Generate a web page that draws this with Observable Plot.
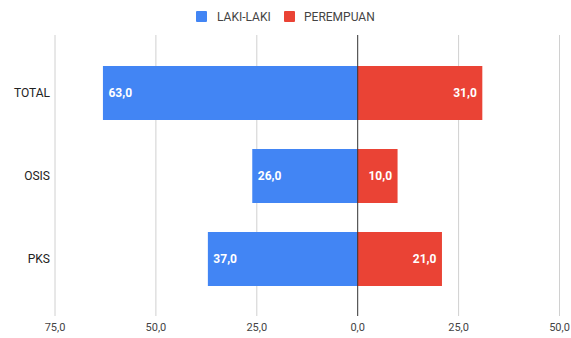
<!DOCTYPE html>
<html><head><meta charset="utf-8">
<script src="https://cdn.jsdelivr.net/npm/d3@7"></script>
<script src="https://cdn.jsdelivr.net/npm/@observablehq/plot@0.6"></script>
<style>
body{margin:0;background:#fff;font-family:Roboto,sans-serif;}
#wrap{position:relative;width:571px;height:338px;}
.lg{position:absolute;font-size:12px;color:#444;line-height:12px;}
.sw{position:absolute;width:11px;height:11px;border-radius:1px;}
</style></head><body>
<div id="wrap"></div>
<script>
const categories = ["TOTAL", "OSIS", "PKS"];
const seriesNames = ["LAKI-LAKI", "PEREMPUAN"];
const lakiLaki = [63, 26, 37];
const perempuan = [31, 10, 21];
const tickValues = [-75, -50, -25, 0, 25, 50];
const colors = ["#4285F4", "#EA4335"];

const data = [];
categories.forEach((c, i) => {
  data.push({cat: c, series: seriesNames[0], v: -lakiLaki[i], label: lakiLaki[i]});
  data.push({cat: c, series: seriesNames[1], v: perempuan[i], label: perempuan[i]});
});
const fmt = v => d3.format(".1f")(Math.abs(v)).replace(".", ",");
const left = data.filter(d => d.v < 0);
const right = data.filter(d => d.v > 0);

const chart = Plot.plot({
  width: 571, height: 338,
  marginTop: 35, marginBottom: 22, marginLeft: 54.5, marginRight: 12,
  style: {fontFamily: "Roboto, sans-serif", background: "#fff"},
  x: {domain: [-75, 50], label: null},
  y: {domain: categories, range: [50.6, 301.85], paddingInner: 0.355, paddingOuter: 0.1775, label: null},
  color: {domain: seriesNames, range: colors},
  marks: [
    Plot.ruleX(tickValues.filter(d => d !== 0), {stroke: "#d0d0d0", strokeOpacity: 1}),
    Plot.barX(data, {x: "v", y: "cat", fill: "series"}),
    Plot.ruleX([0], {stroke: "#333", strokeWidth: 1}),
    Plot.text(left, {x: "v", y: "cat", text: d => fmt(d.label), fill: "white", fontWeight: "bold", fontSize: 12,
      textAnchor: "start", dx: 5}),
    Plot.text(right, {x: "v", y: "cat", text: d => fmt(d.label), fill: "white", fontWeight: "bold", fontSize: 12,
      textAnchor: "end", dx: -6}),
    Plot.axisX({ticks: tickValues, tickFormat: fmt, tickSize: 0, tickPadding: 7, fontSize: 11, fill: "#444", label: null}),
    Plot.axisY({tickSize: 0, tickPadding: 5, fontSize: 12, fill: "#222", label: null})
  ]
});
const wrap = document.getElementById("wrap");
wrap.appendChild(chart);
const legend = [
  {sx: 196, tx: 217, name: seriesNames[0], color: colors[0]},
  {sx: 284, tx: 304, name: seriesNames[1], color: colors[1]}
];
legend.forEach(l => {
  const s = document.createElement("div");
  s.className = "sw"; s.style.left = l.sx + "px"; s.style.top = "11px"; s.style.background = l.color;
  wrap.appendChild(s);
  const t = document.createElement("div");
  t.className = "lg"; t.style.left = l.tx + "px"; t.style.top = "11px"; t.textContent = l.name;
  wrap.appendChild(t);
});
</script>
</body></html>
